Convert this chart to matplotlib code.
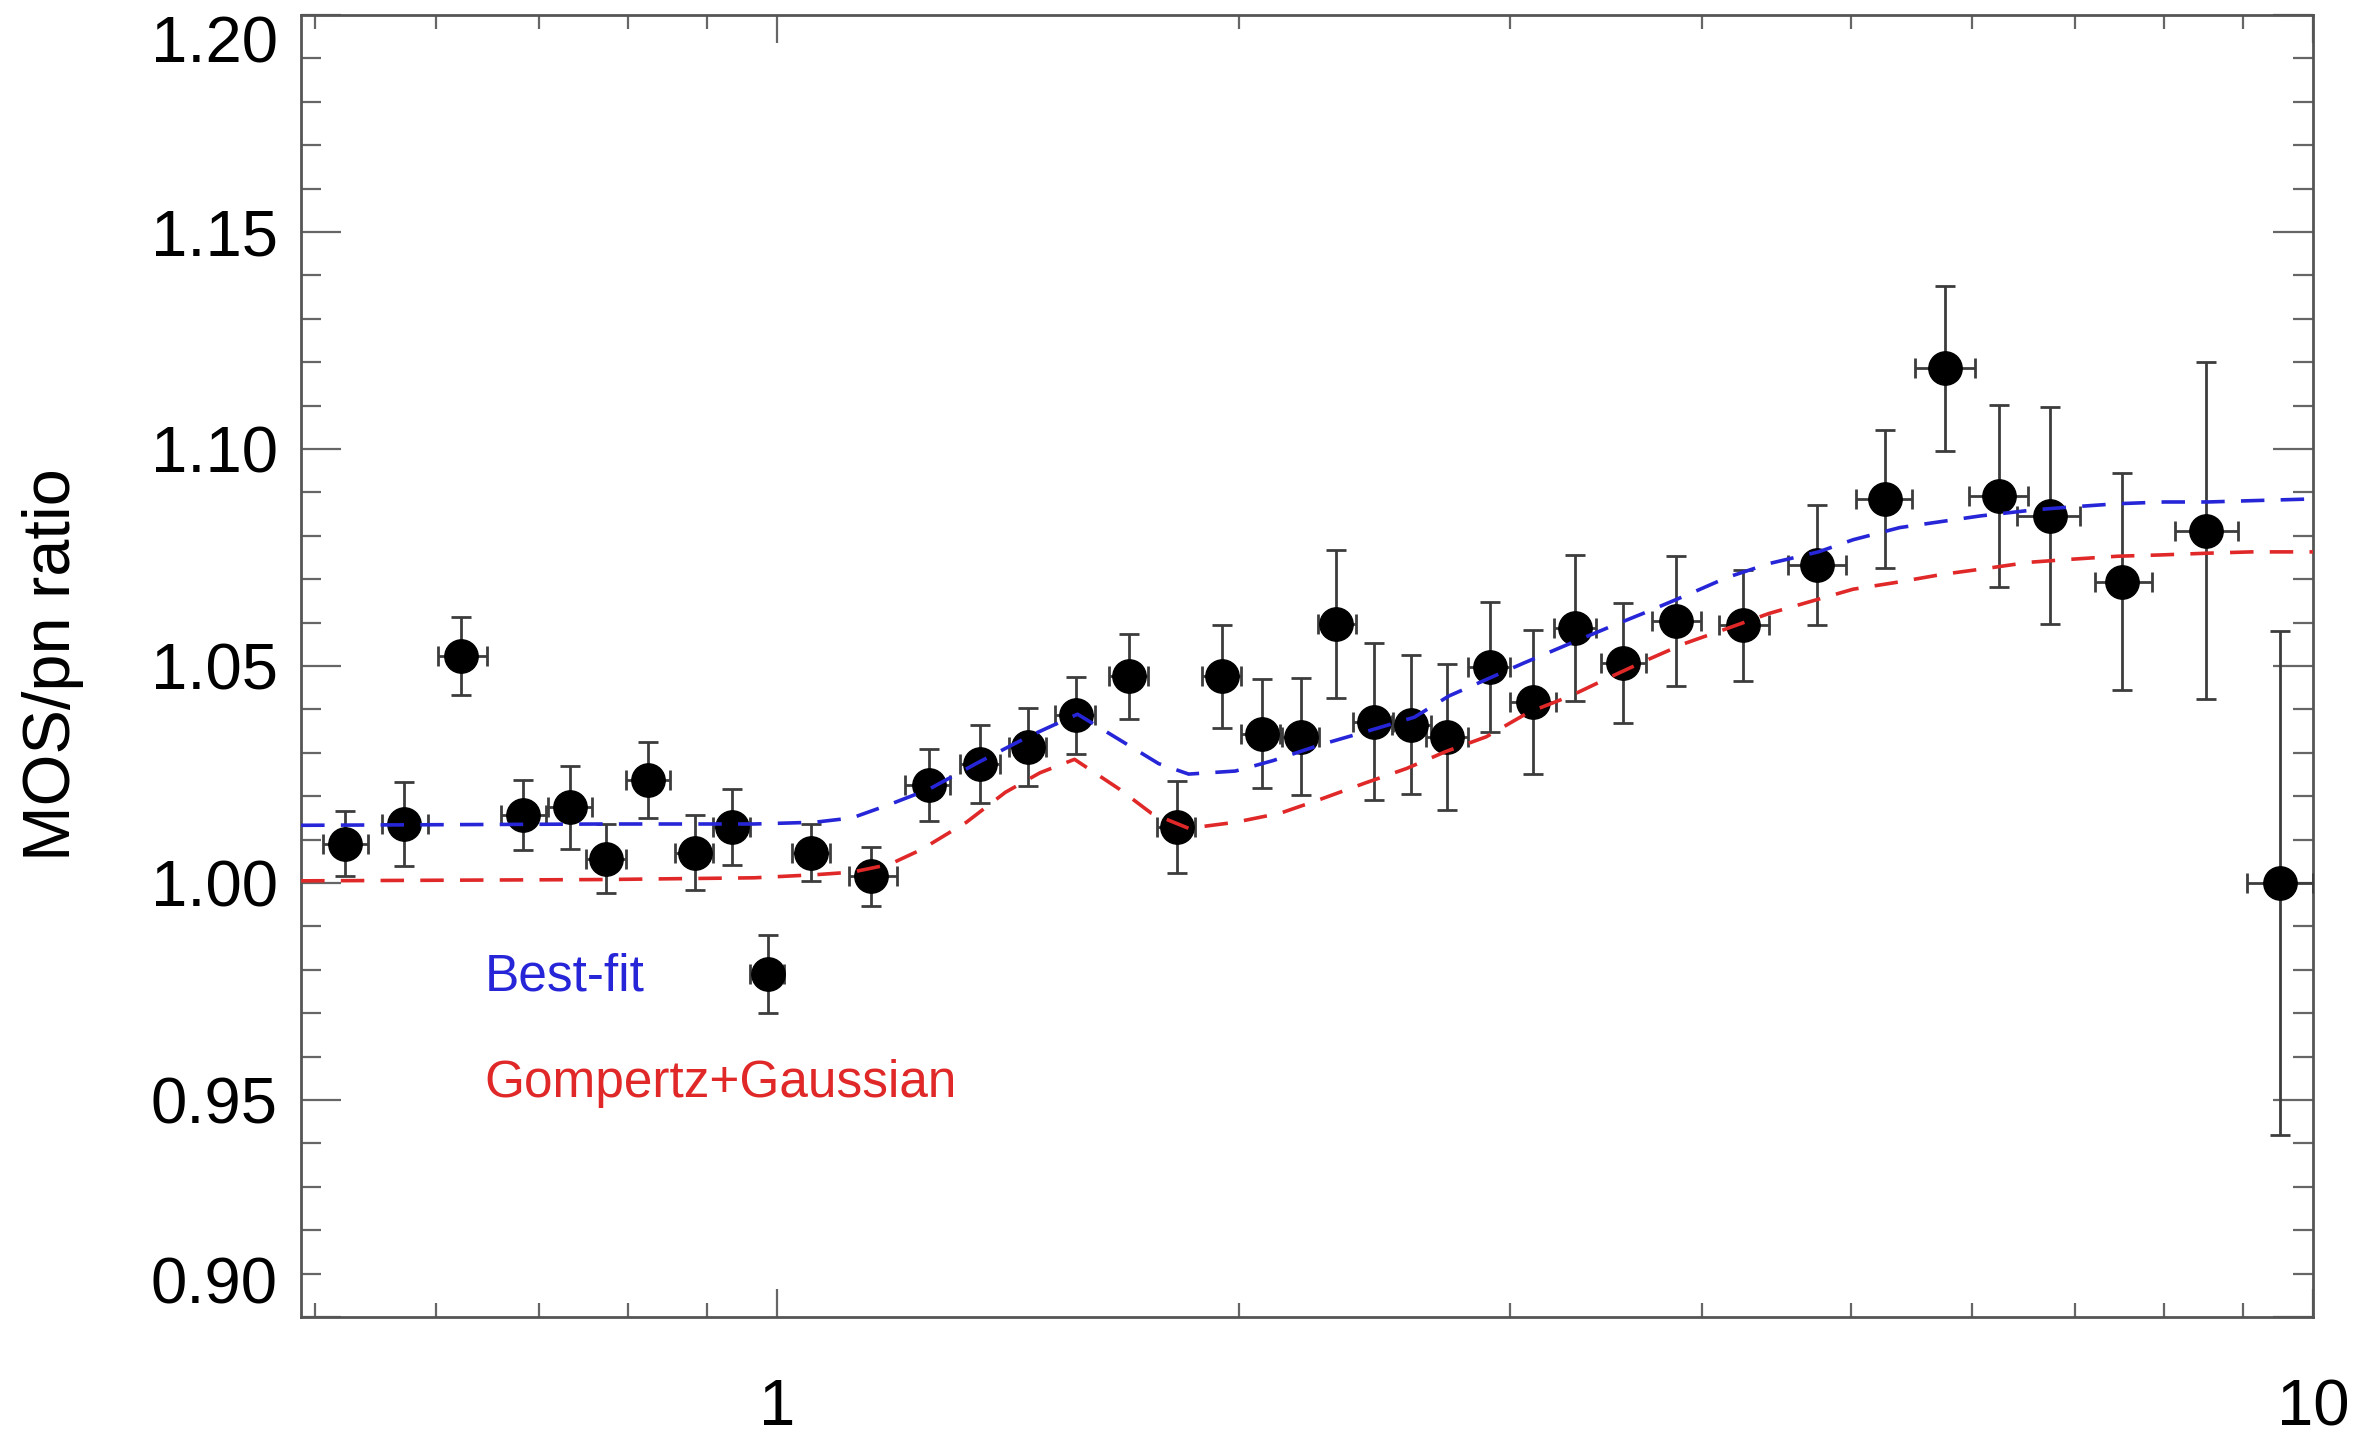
import numpy as np
import matplotlib
matplotlib.use('Agg')
import matplotlib.pyplot as plt
from matplotlib.ticker import FixedLocator, FixedFormatter, NullFormatter

plt.rcParams['font.family'] = ['Liberation Sans', 'DejaVu Sans']

# ---- data ----
energy = [0.523, 0.572, 0.623, 0.683, 0.733, 0.774, 0.824, 0.884, 0.935, 0.987,
          1.053, 1.152, 1.256, 1.356, 1.457, 1.566, 1.694, 1.821, 1.948, 2.070,
          2.195, 2.312, 2.447, 2.588, 2.732, 2.910, 3.106, 3.309, 3.555, 3.847,
          4.258, 4.755, 5.263, 5.758, 6.245, 6.744, 7.511, 8.521, 9.517]
energy_lo = [0.506, 0.553, 0.602, 0.661, 0.709, 0.751, 0.798, 0.858, 0.908, 0.960,
             1.023, 1.114, 1.211, 1.316, 1.415, 1.517, 1.645, 1.768, 1.892, 2.006,
             2.132, 2.250, 2.371, 2.513, 2.647, 2.819, 3.003, 3.206, 3.438, 3.710,
             4.107, 4.555, 5.041, 5.507, 5.970, 6.417, 7.213, 8.128, 9.053]
energy_hi = [0.542, 0.593, 0.647, 0.707, 0.758, 0.797, 0.852, 0.908, 0.960, 1.011,
             1.082, 1.197, 1.296, 1.396, 1.497, 1.612, 1.744, 1.871, 2.006, 2.127,
             2.255, 2.381, 2.519, 2.665, 2.819, 3.003, 3.213, 3.415, 3.677, 3.998,
             4.424, 4.963, 5.481, 6.024, 6.519, 7.054, 7.858, 8.933, 10.0]
ratio = [1.009, 1.0136, 1.0524, 1.0157, 1.0174, 1.0056, 1.0237, 1.007, 1.0129, 0.979,
         1.007, 1.0015, 1.0226, 1.0275, 1.0313, 1.0386, 1.0476, 1.0129, 1.0476, 1.0344,
         1.0337, 1.0597, 1.0372, 1.0365, 1.0337, 1.0497, 1.0417, 1.0587, 1.0507, 1.0604,
         1.0594, 1.0733, 1.0885, 1.1186, 1.0892, 1.0846, 1.0694, 1.0812, 1.000]
ratio_err = [0.0075, 0.0097, 0.009, 0.008, 0.0095, 0.008, 0.0087, 0.0087, 0.0087, 0.009,
             0.0066, 0.0068, 0.0083, 0.009, 0.009, 0.0088, 0.0097, 0.0107, 0.0118, 0.0125,
             0.0135, 0.017, 0.018, 0.016, 0.0168, 0.015, 0.0165, 0.0168, 0.0139, 0.015,
             0.0128, 0.0139, 0.0158, 0.019, 0.021, 0.025, 0.025, 0.0388, 0.058]

best_x = [0.49, 0.7717, 0.9667, 1.058, 1.1191, 1.184, 1.2556, 1.3525, 1.457, 1.5692,
          1.6713, 1.7722, 1.8536, 1.9883, 2.1032, 2.2657, 2.4132, 2.5999, 2.7383, 3.064,
          3.2488, 3.4843, 3.6857, 3.9264, 4.1542, 4.4238, 4.765, 5.019, 5.3826, 5.7319,
          6.0774, 6.5917, 6.9903, 7.4618, 8.0, 8.5402, 9.118, 10.0]
best_y = [1.0133, 1.0136, 1.0136, 1.0140, 1.0150, 1.0181, 1.0216, 1.0278, 1.0337, 1.0389,
          1.0330, 1.0275, 1.0251, 1.0258, 1.0282, 1.0320, 1.0348, 1.0382, 1.0431, 1.0507,
          1.0545, 1.0590, 1.0625, 1.0666, 1.0704, 1.0736, 1.0763, 1.0791, 1.0819, 1.0833,
          1.0846, 1.0860, 1.0867, 1.0874, 1.0878, 1.0878, 1.0881, 1.0885]

gg_x = [0.49, 0.7717, 0.9667, 1.058, 1.1191, 1.184, 1.2416, 1.3284, 1.4083, 1.4833,
        1.5621, 1.6713, 1.7524, 1.8536, 1.9883, 2.127, 2.2549, 2.4132, 2.5704, 2.7258,
        2.8963, 3.0846, 3.2857, 3.4604, 3.6857, 3.8995, 4.1824, 4.4238, 4.7115, 5.019,
        5.3826, 5.7319, 6.1323, 6.5327, 6.9598, 7.4618, 7.9652, 8.5402, 9.118, 10.0]
gg_y = [1.0005, 1.0008, 1.0012, 1.0019, 1.0025, 1.0043, 1.0077, 1.0140, 1.0209, 1.0254,
        1.0285, 1.0216, 1.0161, 1.0126, 1.0140, 1.0161, 1.0192, 1.0230, 1.0264, 1.0303,
        1.0337, 1.0393, 1.0431, 1.0469, 1.0514, 1.0552, 1.0590, 1.0621, 1.0649, 1.0677,
        1.0694, 1.0711, 1.0725, 1.0739, 1.0746, 1.0753, 1.0756, 1.0760, 1.0763, 1.0763]

x_major = [1, 10]
x_major_labels = ['1', '10']
x_minor = [0.5, 0.6, 0.7, 0.8, 0.9, 2, 3, 4, 5, 6, 7, 8, 9]
y_major = [0.90, 0.95, 1.00, 1.05, 1.10, 1.15, 1.20]
y_major_labels = ['0.90', '0.95', '1.00', '1.05', '1.10', '1.15', '1.20']
y_minor = [round(0.90 + 0.01 * i, 2) for i in range(31)]

BLUE = '#2626d8'
RED = '#e02828'

fig = plt.figure(figsize=(23.58, 14.34), dpi=100)
ax = fig.add_axes([0.1277, 0.0816, 0.8532, 0.9079])
ax.set_xscale('log')
ax.set_xlim(0.49, 10)
ax.set_ylim(0.90, 1.20)

e = np.array(energy)
xerr = [e - np.array(energy_lo), np.array(energy_hi) - e]
ax.errorbar(energy, ratio, yerr=ratio_err, xerr=xerr, fmt='o', ms=24,
            mfc='black', mec='black', ecolor='#3c3c3c', elinewidth=2.0,
            capsize=7.5, capthick=2.0, zorder=3)

ax.plot(best_x, best_y, color=BLUE, lw=2.6, dashes=(6.5, 4.5), zorder=4)
ax.plot(gg_x, gg_y, color=RED, lw=2.6, dashes=(6.5, 4.5), zorder=4)

ax.text(0.645, 0.9752, 'Best-fit', color=BLUE, fontsize=37, ha='left', va='baseline')
ax.text(0.645, 0.9506, 'Gompertz+Gaussian', color=RED, fontsize=37, ha='left', va='baseline')

ax.xaxis.set_major_locator(FixedLocator(x_major))
ax.xaxis.set_major_formatter(FixedFormatter(x_major_labels))
ax.xaxis.set_minor_locator(FixedLocator(x_minor))
ax.xaxis.set_minor_formatter(NullFormatter())
ax.yaxis.set_major_locator(FixedLocator(y_major))
ax.yaxis.set_major_formatter(FixedFormatter(y_major_labels))
ax.yaxis.set_minor_locator(FixedLocator(y_minor))
ax.yaxis.set_minor_formatter(NullFormatter())

ax.tick_params(which='both', direction='in', top=True, right=True, color='#666666', width=1.6)
ax.tick_params(axis='x', which='major', length=20, pad=44, labelsize=47)
ax.tick_params(axis='x', which='minor', length=10)
ax.tick_params(axis='y', which='major', length=29, pad=17, labelsize=47)
ax.tick_params(axis='y', which='minor', length=14.5)

for s in ax.spines.values():
    s.set_linewidth(2.0)
    s.set_color('#555555')

fig.canvas.draw()
ylabels = ax.yaxis.get_majorticklabels()
ylabels[0].set_va('bottom')
ylabels[-1].set_va('top')

fig.text(53 / 2358, 1 - 665 / 1434, 'MOS/pn ratio', rotation=90, ha='center', va='center',
         fontsize=48)

fig.savefig('out.png', dpi=100)
